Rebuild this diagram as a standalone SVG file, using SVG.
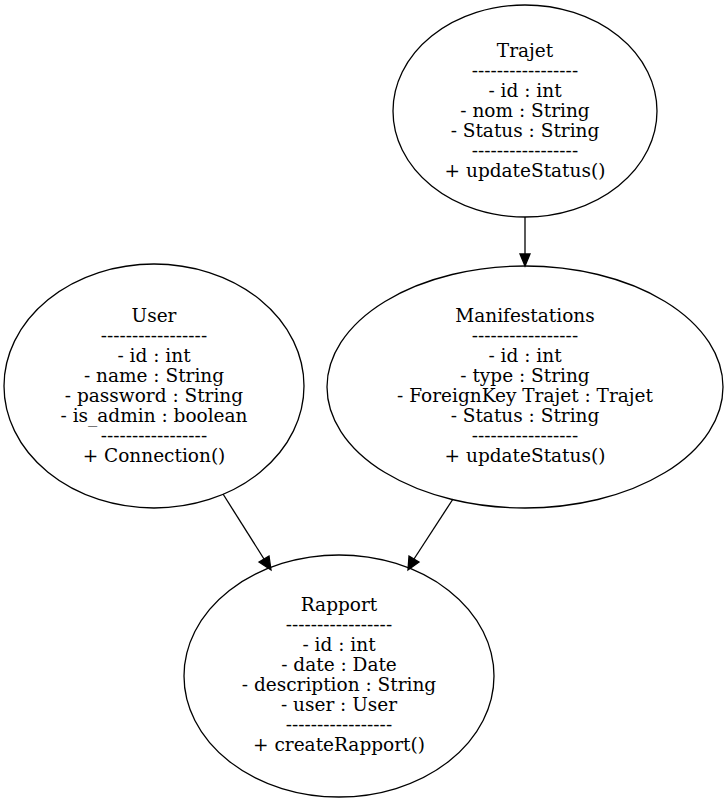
<svg xmlns="http://www.w3.org/2000/svg" width="728" height="802" viewBox="0 0 728 802">
<defs>
<style>
.n ellipse{fill:none;stroke:#000;stroke-width:1.3}
.n text{font-family:"DejaVu Serif",serif;font-size:18.5px;text-anchor:middle;fill:#000}
.e line{stroke:#000;stroke-width:1.3}
.e polygon{fill:#000;stroke:#000;stroke-width:1.3}
</style>
</defs>
<rect width="728" height="802" fill="#fff"/>
<g id="Trajet" class="n">
<ellipse cx="525" cy="111" rx="132" ry="106"/>
<text x="525" y="57">Trajet</text>
<text x="525" y="77">-----------------</text>
<text x="525" y="97">- id : int</text>
<text x="525" y="117">- nom : String</text>
<text x="525" y="137">- Status : String</text>
<text x="525" y="157">-----------------</text>
<text x="525" y="177">+ updateStatus()</text>
</g>
<g id="User" class="n">
<ellipse cx="154" cy="386" rx="150" ry="122"/>
<text x="154" y="322">User</text>
<text x="154" y="342">-----------------</text>
<text x="154" y="362">- id : int</text>
<text x="154" y="382">- name : String</text>
<text x="154" y="402">- password : String</text>
<text x="154" y="422">- is_admin : boolean</text>
<text x="154" y="442">-----------------</text>
<text x="154" y="462">+ Connection()</text>
</g>
<g id="Manifestations" class="n">
<ellipse cx="525" cy="387" rx="198" ry="121"/>
<text x="525" y="322">Manifestations</text>
<text x="525" y="342">-----------------</text>
<text x="525" y="362">- id : int</text>
<text x="525" y="382">- type : String</text>
<text x="525" y="402">- ForeignKey Trajet : Trajet</text>
<text x="525" y="422">- Status : String</text>
<text x="525" y="442">-----------------</text>
<text x="525" y="462">+ updateStatus()</text>
</g>
<g id="Rapport" class="n">
<ellipse cx="339" cy="676" rx="155" ry="121"/>
<text x="339" y="611">Rapport</text>
<text x="339" y="631">-----------------</text>
<text x="339" y="651">- id : int</text>
<text x="339" y="671">- date : Date</text>
<text x="339" y="691">- description : String</text>
<text x="339" y="711">- user : User</text>
<text x="339" y="731">-----------------</text>
<text x="339" y="751">+ createRapport()</text>
</g>
<g id="edges" class="e">
<line x1="525" y1="217" x2="525" y2="254"/>
<polygon points="520,254 530,254 525,266"/>
<line x1="223" y1="494" x2="264" y2="559"/>
<polygon points="259,562 269,556 271,570"/>
<line x1="453" y1="499" x2="414" y2="559"/>
<polygon points="409,556 419,562 408,570"/>
</g>
</svg>
